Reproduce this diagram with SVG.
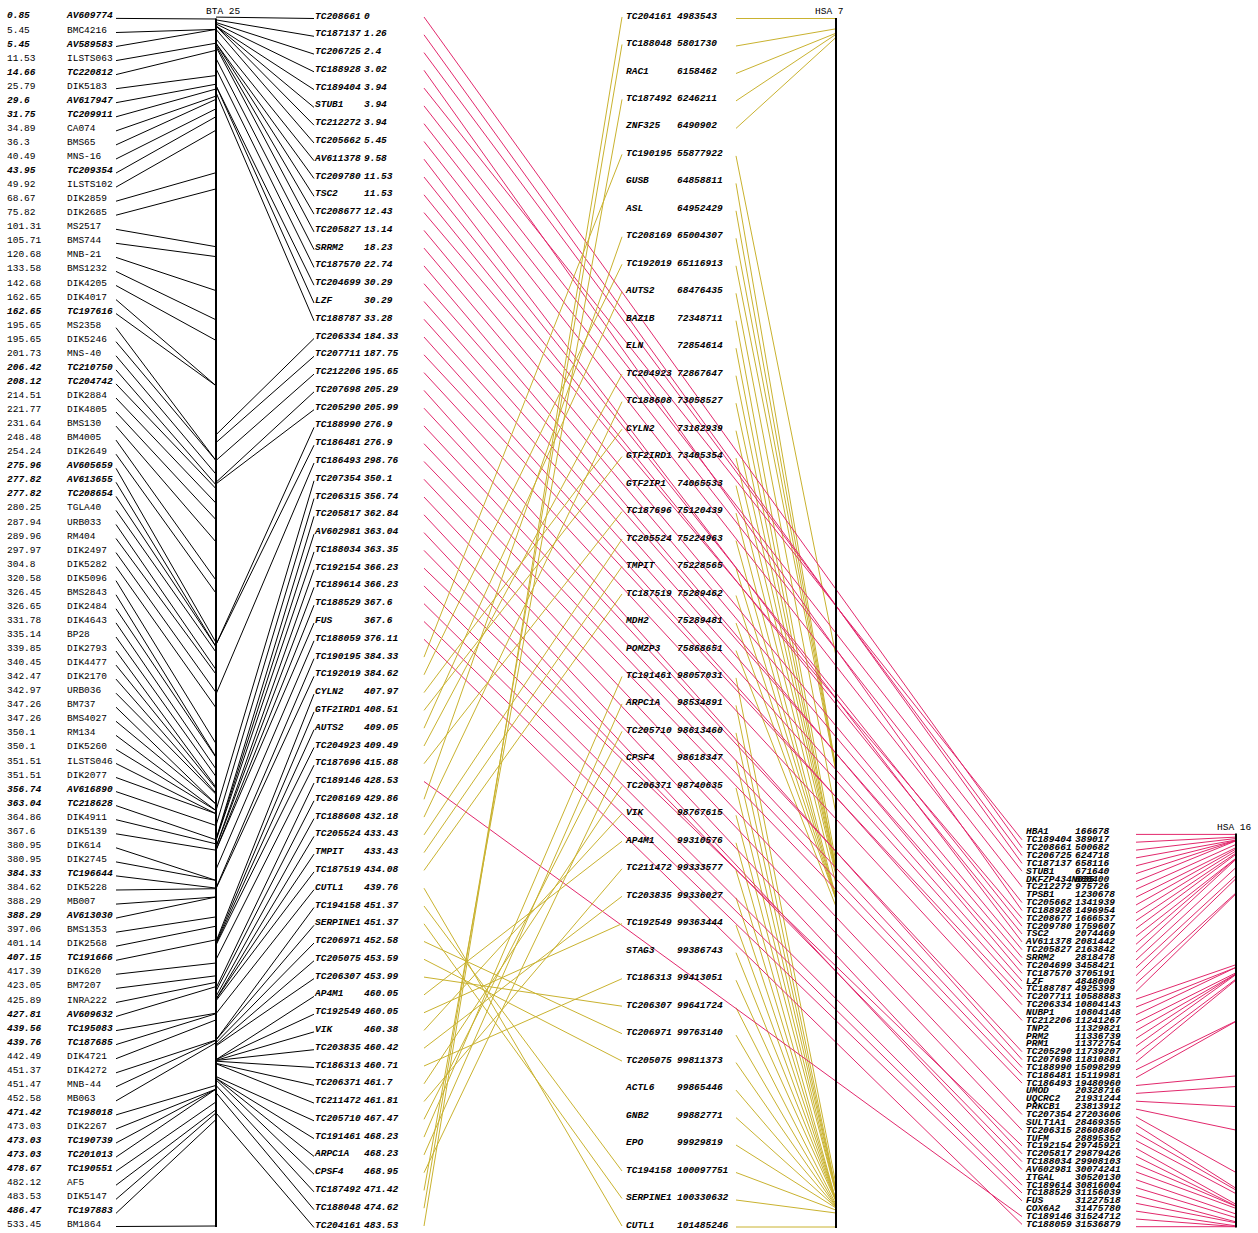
<svg xmlns="http://www.w3.org/2000/svg" width="1258" height="1233" viewBox="0 0 1258 1233">
<style>
text{font-family:"Liberation Mono","Courier New",monospace;font-size:9.5px;fill:#000}
.bi{font-weight:bold;font-style:italic}
.k line{stroke:#000;stroke-width:1}
.o line{stroke:#c9b22f;stroke-width:1}
.m line{stroke:#e2286c;stroke-width:1}
.ax{stroke:#000;stroke-width:2}
</style>
<rect width="1258" height="1233" fill="#fff"/>
<g id="connectors">
<g class="k" id="bta-left-links">
<line x1="116" y1="18.4" x2="216" y2="19.0"/><line x1="116" y1="32.5" x2="216" y2="29.4"/><line x1="116" y1="46.5" x2="216" y2="29.4"/><line x1="116" y1="60.6" x2="216" y2="43.2"/><line x1="116" y1="74.6" x2="216" y2="50.3"/><line x1="116" y1="88.7" x2="216" y2="75.5"/><line x1="116" y1="102.7" x2="216" y2="84.2"/><line x1="116" y1="116.8" x2="216" y2="89.0"/><line x1="116" y1="130.9" x2="216" y2="96.1"/><line x1="116" y1="144.9" x2="216" y2="99.3"/><line x1="116" y1="159.0" x2="216" y2="108.8"/><line x1="116" y1="173.0" x2="216" y2="116.7"/><line x1="116" y1="187.1" x2="216" y2="130.2"/><line x1="116" y1="201.2" x2="216" y2="172.7"/><line x1="116" y1="215.2" x2="216" y2="188.9"/><line x1="116" y1="229.3" x2="216" y2="246.7"/><line x1="116" y1="243.3" x2="216" y2="256.6"/><line x1="116" y1="257.4" x2="216" y2="290.6"/><line x1="116" y1="271.4" x2="216" y2="319.8"/><line x1="116" y1="285.5" x2="216" y2="340.4"/><line x1="116" y1="299.6" x2="216" y2="385.7"/><line x1="116" y1="313.6" x2="216" y2="385.7"/><line x1="116" y1="327.7" x2="216" y2="460.5"/><line x1="116" y1="341.7" x2="216" y2="460.5"/><line x1="116" y1="355.8" x2="216" y2="474.2"/><line x1="116" y1="369.9" x2="216" y2="484.9"/><line x1="116" y1="383.9" x2="216" y2="488.7"/><line x1="116" y1="398.0" x2="216" y2="503.2"/><line x1="116" y1="412.0" x2="216" y2="519.7"/><line x1="116" y1="426.1" x2="216" y2="542.0"/><line x1="116" y1="440.1" x2="216" y2="580.2"/><line x1="116" y1="454.2" x2="216" y2="593.2"/><line x1="116" y1="468.3" x2="216" y2="642.5"/><line x1="116" y1="482.3" x2="216" y2="646.7"/><line x1="116" y1="496.4" x2="216" y2="646.7"/><line x1="116" y1="510.4" x2="216" y2="652.2"/><line x1="116" y1="524.5" x2="216" y2="669.6"/><line x1="116" y1="538.5" x2="216" y2="674.2"/><line x1="116" y1="552.6" x2="216" y2="692.4"/><line x1="116" y1="566.7" x2="216" y2="707.8"/><line x1="116" y1="580.7" x2="216" y2="743.6"/><line x1="116" y1="594.8" x2="216" y2="756.9"/><line x1="116" y1="608.8" x2="216" y2="757.4"/><line x1="116" y1="622.9" x2="216" y2="769.0"/><line x1="116" y1="637.0" x2="216" y2="776.6"/><line x1="116" y1="651.0" x2="216" y2="787.3"/><line x1="116" y1="665.1" x2="216" y2="788.6"/><line x1="116" y1="679.1" x2="216" y2="793.2"/><line x1="116" y1="693.2" x2="216" y2="794.3"/><line x1="116" y1="707.2" x2="216" y2="804.1"/><line x1="116" y1="721.3" x2="216" y2="804.1"/><line x1="116" y1="735.4" x2="216" y2="810.5"/><line x1="116" y1="749.4" x2="216" y2="810.5"/><line x1="116" y1="763.5" x2="216" y2="813.7"/><line x1="116" y1="777.5" x2="216" y2="813.7"/><line x1="116" y1="791.6" x2="216" y2="825.5"/><line x1="116" y1="805.6" x2="216" y2="839.8"/><line x1="116" y1="819.7" x2="216" y2="843.9"/><line x1="116" y1="833.8" x2="216" y2="850.2"/><line x1="116" y1="847.8" x2="216" y2="880.4"/><line x1="116" y1="861.9" x2="216" y2="880.4"/><line x1="116" y1="875.9" x2="216" y2="888.1"/><line x1="116" y1="890.0" x2="216" y2="888.7"/><line x1="116" y1="904.1" x2="216" y2="897.0"/><line x1="116" y1="918.1" x2="216" y2="897.0"/><line x1="116" y1="932.2" x2="216" y2="916.9"/><line x1="116" y1="946.2" x2="216" y2="926.2"/><line x1="116" y1="960.3" x2="216" y2="939.8"/><line x1="116" y1="974.3" x2="216" y2="963.0"/><line x1="116" y1="988.4" x2="216" y2="975.8"/><line x1="116" y1="1002.5" x2="216" y2="982.3"/><line x1="116" y1="1016.5" x2="216" y2="986.6"/><line x1="116" y1="1030.6" x2="216" y2="1013.2"/><line x1="116" y1="1044.6" x2="216" y2="1013.7"/><line x1="116" y1="1058.7" x2="216" y2="1019.9"/><line x1="116" y1="1072.8" x2="216" y2="1040.0"/><line x1="116" y1="1086.8" x2="216" y2="1040.2"/><line x1="116" y1="1100.9" x2="216" y2="1042.7"/><line x1="116" y1="1114.9" x2="216" y2="1085.4"/><line x1="116" y1="1129.0" x2="216" y2="1089.1"/><line x1="116" y1="1143.0" x2="216" y2="1089.1"/><line x1="116" y1="1157.1" x2="216" y2="1089.1"/><line x1="116" y1="1171.2" x2="216" y2="1101.9"/><line x1="116" y1="1185.2" x2="216" y2="1109.7"/><line x1="116" y1="1199.3" x2="216" y2="1112.9"/><line x1="116" y1="1213.3" x2="216" y2="1119.5"/><line x1="116" y1="1226.5" x2="216" y2="1226.0"/>
</g>
<g class="k" id="bta-right-links">
<line x1="216" y1="17.1" x2="314" y2="18.5"/><line x1="216" y1="19.9" x2="314" y2="36.3"/><line x1="216" y1="22.5" x2="314" y2="54.1"/><line x1="216" y1="23.9" x2="314" y2="71.8"/><line x1="216" y1="26.0" x2="314" y2="89.6"/><line x1="216" y1="26.0" x2="314" y2="107.4"/><line x1="216" y1="26.0" x2="314" y2="125.2"/><line x1="216" y1="29.4" x2="314" y2="143.0"/><line x1="216" y1="38.8" x2="314" y2="160.7"/><line x1="216" y1="43.2" x2="314" y2="178.5"/><line x1="216" y1="43.2" x2="314" y2="196.3"/><line x1="216" y1="45.2" x2="314" y2="214.1"/><line x1="216" y1="46.9" x2="314" y2="231.9"/><line x1="216" y1="58.4" x2="314" y2="249.6"/><line x1="216" y1="68.6" x2="314" y2="267.4"/><line x1="216" y1="85.7" x2="314" y2="285.2"/><line x1="216" y1="85.7" x2="314" y2="303.0"/><line x1="216" y1="92.5" x2="314" y2="320.8"/><line x1="216" y1="434.8" x2="314" y2="338.5"/><line x1="216" y1="442.6" x2="314" y2="356.3"/><line x1="216" y1="460.5" x2="314" y2="374.1"/><line x1="216" y1="482.3" x2="314" y2="391.9"/><line x1="216" y1="483.9" x2="314" y2="409.7"/><line x1="216" y1="644.6" x2="314" y2="427.4"/><line x1="216" y1="644.6" x2="314" y2="445.2"/><line x1="216" y1="694.1" x2="314" y2="463.0"/><line x1="216" y1="810.5" x2="314" y2="480.8"/><line x1="216" y1="825.5" x2="314" y2="498.5"/><line x1="216" y1="839.4" x2="314" y2="516.3"/><line x1="216" y1="839.8" x2="314" y2="534.1"/><line x1="216" y1="840.5" x2="314" y2="551.9"/><line x1="216" y1="847.0" x2="314" y2="569.7"/><line x1="216" y1="847.0" x2="314" y2="587.4"/><line x1="216" y1="850.2" x2="314" y2="605.2"/><line x1="216" y1="850.2" x2="314" y2="623.0"/><line x1="216" y1="869.4" x2="314" y2="640.8"/><line x1="216" y1="888.1" x2="314" y2="658.6"/><line x1="216" y1="888.7" x2="314" y2="676.3"/><line x1="216" y1="941.6" x2="314" y2="694.1"/><line x1="216" y1="942.9" x2="314" y2="711.9"/><line x1="216" y1="944.1" x2="314" y2="729.7"/><line x1="216" y1="945.1" x2="314" y2="747.5"/><line x1="216" y1="959.6" x2="314" y2="765.2"/><line x1="216" y1="988.2" x2="314" y2="783.0"/><line x1="216" y1="991.2" x2="314" y2="800.8"/><line x1="216" y1="996.5" x2="314" y2="818.6"/><line x1="216" y1="999.3" x2="314" y2="836.4"/><line x1="216" y1="999.3" x2="314" y2="854.1"/><line x1="216" y1="1000.8" x2="314" y2="871.9"/><line x1="216" y1="1013.7" x2="314" y2="889.7"/><line x1="216" y1="1040.0" x2="314" y2="907.5"/><line x1="216" y1="1040.0" x2="314" y2="925.3"/><line x1="216" y1="1042.7" x2="314" y2="943.0"/><line x1="216" y1="1045.0" x2="314" y2="960.8"/><line x1="216" y1="1045.9" x2="314" y2="978.6"/><line x1="216" y1="1059.7" x2="314" y2="996.4"/><line x1="216" y1="1059.7" x2="314" y2="1014.2"/><line x1="216" y1="1060.4" x2="314" y2="1031.9"/><line x1="216" y1="1060.5" x2="314" y2="1049.7"/><line x1="216" y1="1061.2" x2="314" y2="1067.5"/><line x1="216" y1="1063.4" x2="314" y2="1085.3"/><line x1="216" y1="1063.7" x2="314" y2="1103.1"/><line x1="216" y1="1076.5" x2="314" y2="1120.8"/><line x1="216" y1="1078.2" x2="314" y2="1138.6"/><line x1="216" y1="1078.2" x2="314" y2="1156.4"/><line x1="216" y1="1079.8" x2="314" y2="1174.2"/><line x1="216" y1="1085.4" x2="314" y2="1191.9"/><line x1="216" y1="1092.7" x2="314" y2="1209.7"/><line x1="216" y1="1112.9" x2="314" y2="1227.5"/>
</g>
<g class="o" id="hsa7-links">
<line x1="736" y1="18.5" x2="836" y2="18.5"/><line x1="736" y1="46.0" x2="836" y2="28.8"/><line x1="736" y1="73.5" x2="836" y2="33.2"/><line x1="736" y1="100.9" x2="836" y2="34.3"/><line x1="736" y1="128.4" x2="836" y2="37.4"/><line x1="736" y1="155.9" x2="836" y2="656.1"/><line x1="736" y1="183.4" x2="836" y2="768.6"/><line x1="736" y1="210.8" x2="836" y2="769.8"/><line x1="736" y1="238.3" x2="836" y2="770.5"/><line x1="736" y1="265.8" x2="836" y2="771.9"/><line x1="736" y1="293.3" x2="836" y2="814.0"/><line x1="736" y1="320.7" x2="836" y2="862.5"/><line x1="736" y1="348.2" x2="836" y2="868.8"/><line x1="736" y1="375.7" x2="836" y2="869.0"/><line x1="736" y1="403.2" x2="836" y2="871.4"/><line x1="736" y1="430.7" x2="836" y2="872.9"/><line x1="736" y1="458.1" x2="836" y2="875.7"/><line x1="736" y1="485.6" x2="836" y2="884.0"/><line x1="736" y1="513.1" x2="836" y2="897.2"/><line x1="736" y1="540.6" x2="836" y2="898.5"/><line x1="736" y1="568.0" x2="836" y2="898.6"/><line x1="736" y1="595.5" x2="836" y2="899.3"/><line x1="736" y1="623.0" x2="836" y2="899.3"/><line x1="736" y1="650.5" x2="836" y2="906.6"/><line x1="736" y1="677.9" x2="836" y2="1184.6"/><line x1="736" y1="705.4" x2="836" y2="1190.5"/><line x1="736" y1="732.9" x2="836" y2="1191.5"/><line x1="736" y1="760.4" x2="836" y2="1191.6"/><line x1="736" y1="787.9" x2="836" y2="1193.1"/><line x1="736" y1="815.3" x2="836" y2="1193.5"/><line x1="736" y1="842.8" x2="836" y2="1200.3"/><line x1="736" y1="870.3" x2="836" y2="1200.5"/><line x1="736" y1="897.8" x2="836" y2="1200.6"/><line x1="736" y1="925.2" x2="836" y2="1200.9"/><line x1="736" y1="952.7" x2="836" y2="1201.2"/><line x1="736" y1="980.2" x2="836" y2="1201.5"/><line x1="736" y1="1007.7" x2="836" y2="1204.4"/><line x1="736" y1="1035.1" x2="836" y2="1205.9"/><line x1="736" y1="1062.6" x2="836" y2="1206.5"/><line x1="736" y1="1090.1" x2="836" y2="1207.2"/><line x1="736" y1="1117.6" x2="836" y2="1207.4"/><line x1="736" y1="1145.0" x2="836" y2="1208.0"/><line x1="736" y1="1172.5" x2="836" y2="1210.1"/><line x1="736" y1="1200.0" x2="836" y2="1213.0"/><line x1="736" y1="1227.0" x2="836" y2="1227.0"/>
</g>
<g class="m" id="hsa16-links">
<line x1="1136" y1="834.4" x2="1236" y2="834.4"/><line x1="1136" y1="842.2" x2="1236" y2="837.1"/><line x1="1136" y1="850.1" x2="1236" y2="838.5"/><line x1="1136" y1="857.9" x2="1236" y2="840.0"/><line x1="1136" y1="865.8" x2="1236" y2="840.5"/><line x1="1136" y1="873.6" x2="1236" y2="840.6"/><line x1="1136" y1="881.5" x2="1236" y2="840.8"/><line x1="1136" y1="889.3" x2="1236" y2="844.4"/><line x1="1136" y1="897.2" x2="1236" y2="847.6"/><line x1="1136" y1="905.0" x2="1236" y2="849.0"/><line x1="1136" y1="912.9" x2="1236" y2="850.9"/><line x1="1136" y1="920.7" x2="1236" y2="853.1"/><line x1="1136" y1="928.6" x2="1236" y2="854.2"/><line x1="1136" y1="936.4" x2="1236" y2="858.2"/><line x1="1136" y1="944.3" x2="1236" y2="858.3"/><line x1="1136" y1="952.1" x2="1236" y2="859.3"/><line x1="1136" y1="960.0" x2="1236" y2="867.5"/><line x1="1136" y1="967.8" x2="1236" y2="875.5"/><line x1="1136" y1="975.7" x2="1236" y2="878.6"/><line x1="1136" y1="983.5" x2="1236" y2="892.9"/><line x1="1136" y1="991.4" x2="1236" y2="893.8"/><line x1="1136" y1="999.2" x2="1236" y2="964.7"/><line x1="1136" y1="1007.1" x2="1236" y2="967.4"/><line x1="1136" y1="1014.9" x2="1236" y2="967.4"/><line x1="1136" y1="1022.8" x2="1236" y2="972.8"/><line x1="1136" y1="1030.6" x2="1236" y2="973.9"/><line x1="1136" y1="1038.5" x2="1236" y2="974.0"/><line x1="1136" y1="1046.3" x2="1236" y2="974.5"/><line x1="1136" y1="1054.1" x2="1236" y2="979.1"/><line x1="1136" y1="1062.0" x2="1236" y2="980.0"/><line x1="1136" y1="1069.8" x2="1236" y2="1021.1"/><line x1="1136" y1="1077.7" x2="1236" y2="1021.4"/><line x1="1136" y1="1085.5" x2="1236" y2="1075.9"/><line x1="1136" y1="1093.4" x2="1236" y2="1086.5"/><line x1="1136" y1="1101.2" x2="1236" y2="1106.6"/><line x1="1136" y1="1109.1" x2="1236" y2="1130.1"/><line x1="1136" y1="1116.9" x2="1236" y2="1172.5"/><line x1="1136" y1="1124.8" x2="1236" y2="1188.3"/><line x1="1136" y1="1132.6" x2="1236" y2="1190.1"/><line x1="1136" y1="1140.5" x2="1236" y2="1193.7"/><line x1="1136" y1="1148.3" x2="1236" y2="1204.3"/><line x1="1136" y1="1156.2" x2="1236" y2="1206.0"/><line x1="1136" y1="1164.0" x2="1236" y2="1206.3"/><line x1="1136" y1="1171.9" x2="1236" y2="1208.4"/><line x1="1136" y1="1179.7" x2="1236" y2="1214.0"/><line x1="1136" y1="1187.6" x2="1236" y2="1217.7"/><line x1="1136" y1="1195.4" x2="1236" y2="1221.9"/><line x1="1136" y1="1203.3" x2="1236" y2="1222.8"/><line x1="1136" y1="1211.1" x2="1236" y2="1225.9"/><line x1="1136" y1="1219.0" x2="1236" y2="1226.6"/><line x1="1136" y1="1226.7" x2="1236" y2="1226.7"/>
</g>
<g class="m" id="bta-hsa16-links">
<line x1="424" y1="17.0" x2="1022" y2="847.7"/><line x1="424" y1="34.8" x2="1022" y2="863.4"/><line x1="424" y1="52.6" x2="1022" y2="855.5"/><line x1="424" y1="70.3" x2="1022" y2="910.5"/><line x1="424" y1="88.1" x2="1022" y2="839.8"/><line x1="424" y1="105.9" x2="1022" y2="871.2"/><line x1="424" y1="123.7" x2="1022" y2="886.9"/><line x1="424" y1="141.5" x2="1022" y2="902.6"/><line x1="424" y1="159.2" x2="1022" y2="941.9"/><line x1="424" y1="177.0" x2="1022" y2="926.2"/><line x1="424" y1="194.8" x2="1022" y2="934.0"/><line x1="424" y1="212.6" x2="1022" y2="918.3"/><line x1="424" y1="230.4" x2="1022" y2="949.7"/><line x1="424" y1="248.1" x2="1022" y2="957.6"/><line x1="424" y1="265.9" x2="1022" y2="973.3"/><line x1="424" y1="283.7" x2="1022" y2="965.4"/><line x1="424" y1="301.5" x2="1022" y2="981.1"/><line x1="424" y1="319.3" x2="1022" y2="989.0"/><line x1="424" y1="337.0" x2="1022" y2="1004.7"/><line x1="424" y1="354.8" x2="1022" y2="996.8"/><line x1="424" y1="372.6" x2="1022" y2="1020.4"/><line x1="424" y1="390.4" x2="1022" y2="1059.6"/><line x1="424" y1="408.2" x2="1022" y2="1051.7"/><line x1="424" y1="425.9" x2="1022" y2="1067.4"/><line x1="424" y1="443.7" x2="1022" y2="1075.3"/><line x1="424" y1="461.5" x2="1022" y2="1083.1"/><line x1="424" y1="479.3" x2="1022" y2="1114.5"/><line x1="424" y1="497.0" x2="1022" y2="1130.2"/><line x1="424" y1="514.8" x2="1022" y2="1153.8"/><line x1="424" y1="532.6" x2="1022" y2="1169.5"/><line x1="424" y1="550.4" x2="1022" y2="1161.6"/><line x1="424" y1="568.2" x2="1022" y2="1145.9"/><line x1="424" y1="585.9" x2="1022" y2="1185.2"/><line x1="424" y1="603.7" x2="1022" y2="1193.0"/><line x1="424" y1="621.5" x2="1022" y2="1200.9"/><line x1="424" y1="639.3" x2="1022" y2="1224.4"/><line x1="424" y1="781.5" x2="1022" y2="1216.6"/>
</g>
<g class="o" id="bta-hsa7-links">
<line x1="424" y1="657.1" x2="622" y2="154.4"/><line x1="424" y1="674.8" x2="622" y2="264.3"/><line x1="424" y1="692.6" x2="622" y2="429.2"/><line x1="424" y1="710.4" x2="622" y2="456.6"/><line x1="424" y1="728.2" x2="622" y2="291.8"/><line x1="424" y1="746.0" x2="622" y2="374.2"/><line x1="424" y1="763.7" x2="622" y2="511.6"/><line x1="424" y1="799.3" x2="622" y2="236.8"/><line x1="424" y1="817.1" x2="622" y2="401.7"/><line x1="424" y1="834.9" x2="622" y2="539.1"/><line x1="424" y1="852.6" x2="622" y2="566.5"/><line x1="424" y1="870.4" x2="622" y2="594.0"/><line x1="424" y1="888.2" x2="622" y2="1226.0"/><line x1="424" y1="906.0" x2="622" y2="1171.0"/><line x1="424" y1="923.8" x2="622" y2="1198.5"/><line x1="424" y1="941.5" x2="622" y2="1033.7"/><line x1="424" y1="959.3" x2="622" y2="1061.1"/><line x1="424" y1="977.1" x2="622" y2="1006.2"/><line x1="424" y1="994.9" x2="622" y2="841.3"/><line x1="424" y1="1012.7" x2="622" y2="923.7"/><line x1="424" y1="1030.4" x2="622" y2="813.8"/><line x1="424" y1="1048.2" x2="622" y2="896.3"/><line x1="424" y1="1066.0" x2="622" y2="978.7"/><line x1="424" y1="1083.8" x2="622" y2="786.4"/><line x1="424" y1="1101.5" x2="622" y2="868.8"/><line x1="424" y1="1119.3" x2="622" y2="731.4"/><line x1="424" y1="1137.1" x2="622" y2="676.5"/><line x1="424" y1="1154.9" x2="622" y2="703.9"/><line x1="424" y1="1172.7" x2="622" y2="758.9"/><line x1="424" y1="1190.4" x2="622" y2="99.4"/><line x1="424" y1="1208.2" x2="622" y2="44.5"/><line x1="424" y1="1226.0" x2="622" y2="17.0"/>
</g>
</g>
<g id="chr-BTA25"><line class="ax" x1="216" y1="18.5" x2="216" y2="1227"/><text x="206" y="13.5">BTA 25</text></g>
<g id="chr-HSA7"><line class="ax" x1="836" y1="18" x2="836" y2="1228"/><text x="815" y="14">HSA 7</text></g>
<g id="chr-HSA16"><line class="ax" x1="1236" y1="833.5" x2="1236" y2="1227.5"/><text x="1217" y="829.5">HSA 16</text></g>
<g id="bta-labels">
<g id="bta-AV609774"><text class="bi" y="18.4"><tspan x="7">0.85</tspan><tspan x="67">AV609774</tspan></text></g>
<g id="bta-BMC4216"><text y="32.5"><tspan x="7">5.45</tspan><tspan x="67">BMC4216</tspan></text></g>
<g id="bta-AV589583"><text class="bi" y="46.5"><tspan x="7">5.45</tspan><tspan x="67">AV589583</tspan></text></g>
<g id="bta-ILSTS063"><text y="60.6"><tspan x="7">11.53</tspan><tspan x="67">ILSTS063</tspan></text></g>
<g id="bta-TC220812"><text class="bi" y="74.6"><tspan x="7">14.66</tspan><tspan x="67">TC220812</tspan></text></g>
<g id="bta-DIK5183"><text y="88.7"><tspan x="7">25.79</tspan><tspan x="67">DIK5183</tspan></text></g>
<g id="bta-AV617947"><text class="bi" y="102.7"><tspan x="7">29.6</tspan><tspan x="67">AV617947</tspan></text></g>
<g id="bta-TC209911"><text class="bi" y="116.8"><tspan x="7">31.75</tspan><tspan x="67">TC209911</tspan></text></g>
<g id="bta-CA074"><text y="130.9"><tspan x="7">34.89</tspan><tspan x="67">CA074</tspan></text></g>
<g id="bta-BMS65"><text y="144.9"><tspan x="7">36.3</tspan><tspan x="67">BMS65</tspan></text></g>
<g id="bta-MNS-16"><text y="159.0"><tspan x="7">40.49</tspan><tspan x="67">MNS-16</tspan></text></g>
<g id="bta-TC209354"><text class="bi" y="173.0"><tspan x="7">43.95</tspan><tspan x="67">TC209354</tspan></text></g>
<g id="bta-ILSTS102"><text y="187.1"><tspan x="7">49.92</tspan><tspan x="67">ILSTS102</tspan></text></g>
<g id="bta-DIK2859"><text y="201.2"><tspan x="7">68.67</tspan><tspan x="67">DIK2859</tspan></text></g>
<g id="bta-DIK2685"><text y="215.2"><tspan x="7">75.82</tspan><tspan x="67">DIK2685</tspan></text></g>
<g id="bta-MS2517"><text y="229.3"><tspan x="7">101.31</tspan><tspan x="67">MS2517</tspan></text></g>
<g id="bta-BMS744"><text y="243.3"><tspan x="7">105.71</tspan><tspan x="67">BMS744</tspan></text></g>
<g id="bta-MNB-21"><text y="257.4"><tspan x="7">120.68</tspan><tspan x="67">MNB-21</tspan></text></g>
<g id="bta-BMS1232"><text y="271.4"><tspan x="7">133.58</tspan><tspan x="67">BMS1232</tspan></text></g>
<g id="bta-DIK4205"><text y="285.5"><tspan x="7">142.68</tspan><tspan x="67">DIK4205</tspan></text></g>
<g id="bta-DIK4017"><text y="299.6"><tspan x="7">162.65</tspan><tspan x="67">DIK4017</tspan></text></g>
<g id="bta-TC197616"><text class="bi" y="313.6"><tspan x="7">162.65</tspan><tspan x="67">TC197616</tspan></text></g>
<g id="bta-MS2358"><text y="327.7"><tspan x="7">195.65</tspan><tspan x="67">MS2358</tspan></text></g>
<g id="bta-DIK5246"><text y="341.7"><tspan x="7">195.65</tspan><tspan x="67">DIK5246</tspan></text></g>
<g id="bta-MNS-40"><text y="355.8"><tspan x="7">201.73</tspan><tspan x="67">MNS-40</tspan></text></g>
<g id="bta-TC210750"><text class="bi" y="369.9"><tspan x="7">206.42</tspan><tspan x="67">TC210750</tspan></text></g>
<g id="bta-TC204742"><text class="bi" y="383.9"><tspan x="7">208.12</tspan><tspan x="67">TC204742</tspan></text></g>
<g id="bta-DIK2884"><text y="398.0"><tspan x="7">214.51</tspan><tspan x="67">DIK2884</tspan></text></g>
<g id="bta-DIK4805"><text y="412.0"><tspan x="7">221.77</tspan><tspan x="67">DIK4805</tspan></text></g>
<g id="bta-BMS130"><text y="426.1"><tspan x="7">231.64</tspan><tspan x="67">BMS130</tspan></text></g>
<g id="bta-BM4005"><text y="440.1"><tspan x="7">248.48</tspan><tspan x="67">BM4005</tspan></text></g>
<g id="bta-DIK2649"><text y="454.2"><tspan x="7">254.24</tspan><tspan x="67">DIK2649</tspan></text></g>
<g id="bta-AV605659"><text class="bi" y="468.3"><tspan x="7">275.96</tspan><tspan x="67">AV605659</tspan></text></g>
<g id="bta-AV613655"><text class="bi" y="482.3"><tspan x="7">277.82</tspan><tspan x="67">AV613655</tspan></text></g>
<g id="bta-TC208654"><text class="bi" y="496.4"><tspan x="7">277.82</tspan><tspan x="67">TC208654</tspan></text></g>
<g id="bta-TGLA40"><text y="510.4"><tspan x="7">280.25</tspan><tspan x="67">TGLA40</tspan></text></g>
<g id="bta-URB033"><text y="524.5"><tspan x="7">287.94</tspan><tspan x="67">URB033</tspan></text></g>
<g id="bta-RM404"><text y="538.5"><tspan x="7">289.96</tspan><tspan x="67">RM404</tspan></text></g>
<g id="bta-DIK2497"><text y="552.6"><tspan x="7">297.97</tspan><tspan x="67">DIK2497</tspan></text></g>
<g id="bta-DIK5282"><text y="566.7"><tspan x="7">304.8</tspan><tspan x="67">DIK5282</tspan></text></g>
<g id="bta-DIK5096"><text y="580.7"><tspan x="7">320.58</tspan><tspan x="67">DIK5096</tspan></text></g>
<g id="bta-BMS2843"><text y="594.8"><tspan x="7">326.45</tspan><tspan x="67">BMS2843</tspan></text></g>
<g id="bta-DIK2484"><text y="608.8"><tspan x="7">326.65</tspan><tspan x="67">DIK2484</tspan></text></g>
<g id="bta-DIK4643"><text y="622.9"><tspan x="7">331.78</tspan><tspan x="67">DIK4643</tspan></text></g>
<g id="bta-BP28"><text y="637.0"><tspan x="7">335.14</tspan><tspan x="67">BP28</tspan></text></g>
<g id="bta-DIK2793"><text y="651.0"><tspan x="7">339.85</tspan><tspan x="67">DIK2793</tspan></text></g>
<g id="bta-DIK4477"><text y="665.1"><tspan x="7">340.45</tspan><tspan x="67">DIK4477</tspan></text></g>
<g id="bta-DIK2170"><text y="679.1"><tspan x="7">342.47</tspan><tspan x="67">DIK2170</tspan></text></g>
<g id="bta-URB036"><text y="693.2"><tspan x="7">342.97</tspan><tspan x="67">URB036</tspan></text></g>
<g id="bta-BM737"><text y="707.2"><tspan x="7">347.26</tspan><tspan x="67">BM737</tspan></text></g>
<g id="bta-BMS4027"><text y="721.3"><tspan x="7">347.26</tspan><tspan x="67">BMS4027</tspan></text></g>
<g id="bta-RM134"><text y="735.4"><tspan x="7">350.1</tspan><tspan x="67">RM134</tspan></text></g>
<g id="bta-DIK5260"><text y="749.4"><tspan x="7">350.1</tspan><tspan x="67">DIK5260</tspan></text></g>
<g id="bta-ILSTS046"><text y="763.5"><tspan x="7">351.51</tspan><tspan x="67">ILSTS046</tspan></text></g>
<g id="bta-DIK2077"><text y="777.5"><tspan x="7">351.51</tspan><tspan x="67">DIK2077</tspan></text></g>
<g id="bta-AV616890"><text class="bi" y="791.6"><tspan x="7">356.74</tspan><tspan x="67">AV616890</tspan></text></g>
<g id="bta-TC218628"><text class="bi" y="805.6"><tspan x="7">363.04</tspan><tspan x="67">TC218628</tspan></text></g>
<g id="bta-DIK4911"><text y="819.7"><tspan x="7">364.86</tspan><tspan x="67">DIK4911</tspan></text></g>
<g id="bta-DIK5139"><text y="833.8"><tspan x="7">367.6</tspan><tspan x="67">DIK5139</tspan></text></g>
<g id="bta-DIK614"><text y="847.8"><tspan x="7">380.95</tspan><tspan x="67">DIK614</tspan></text></g>
<g id="bta-DIK2745"><text y="861.9"><tspan x="7">380.95</tspan><tspan x="67">DIK2745</tspan></text></g>
<g id="bta-TC196644"><text class="bi" y="875.9"><tspan x="7">384.33</tspan><tspan x="67">TC196644</tspan></text></g>
<g id="bta-DIK5228"><text y="890.0"><tspan x="7">384.62</tspan><tspan x="67">DIK5228</tspan></text></g>
<g id="bta-MB007"><text y="904.1"><tspan x="7">388.29</tspan><tspan x="67">MB007</tspan></text></g>
<g id="bta-AV613030"><text class="bi" y="918.1"><tspan x="7">388.29</tspan><tspan x="67">AV613030</tspan></text></g>
<g id="bta-BMS1353"><text y="932.2"><tspan x="7">397.06</tspan><tspan x="67">BMS1353</tspan></text></g>
<g id="bta-DIK2568"><text y="946.2"><tspan x="7">401.14</tspan><tspan x="67">DIK2568</tspan></text></g>
<g id="bta-TC191666"><text class="bi" y="960.3"><tspan x="7">407.15</tspan><tspan x="67">TC191666</tspan></text></g>
<g id="bta-DIK620"><text y="974.3"><tspan x="7">417.39</tspan><tspan x="67">DIK620</tspan></text></g>
<g id="bta-BM7207"><text y="988.4"><tspan x="7">423.05</tspan><tspan x="67">BM7207</tspan></text></g>
<g id="bta-INRA222"><text y="1002.5"><tspan x="7">425.89</tspan><tspan x="67">INRA222</tspan></text></g>
<g id="bta-AV609632"><text class="bi" y="1016.5"><tspan x="7">427.81</tspan><tspan x="67">AV609632</tspan></text></g>
<g id="bta-TC195083"><text class="bi" y="1030.6"><tspan x="7">439.56</tspan><tspan x="67">TC195083</tspan></text></g>
<g id="bta-TC187685"><text class="bi" y="1044.6"><tspan x="7">439.76</tspan><tspan x="67">TC187685</tspan></text></g>
<g id="bta-DIK4721"><text y="1058.7"><tspan x="7">442.49</tspan><tspan x="67">DIK4721</tspan></text></g>
<g id="bta-DIK4272"><text y="1072.8"><tspan x="7">451.37</tspan><tspan x="67">DIK4272</tspan></text></g>
<g id="bta-MNB-44"><text y="1086.8"><tspan x="7">451.47</tspan><tspan x="67">MNB-44</tspan></text></g>
<g id="bta-MB063"><text y="1100.9"><tspan x="7">452.58</tspan><tspan x="67">MB063</tspan></text></g>
<g id="bta-TC198018"><text class="bi" y="1114.9"><tspan x="7">471.42</tspan><tspan x="67">TC198018</tspan></text></g>
<g id="bta-DIK2267"><text y="1129.0"><tspan x="7">473.03</tspan><tspan x="67">DIK2267</tspan></text></g>
<g id="bta-TC190739"><text class="bi" y="1143.0"><tspan x="7">473.03</tspan><tspan x="67">TC190739</tspan></text></g>
<g id="bta-TC201013"><text class="bi" y="1157.1"><tspan x="7">473.03</tspan><tspan x="67">TC201013</tspan></text></g>
<g id="bta-TC190551"><text class="bi" y="1171.2"><tspan x="7">478.67</tspan><tspan x="67">TC190551</tspan></text></g>
<g id="bta-AF5"><text y="1185.2"><tspan x="7">482.12</tspan><tspan x="67">AF5</tspan></text></g>
<g id="bta-DIK5147"><text y="1199.3"><tspan x="7">483.53</tspan><tspan x="67">DIK5147</tspan></text></g>
<g id="bta-TC197883"><text class="bi" y="1213.3"><tspan x="7">486.47</tspan><tspan x="67">TC197883</tspan></text></g>
<g id="bta-BM1864"><text y="1227.4"><tspan x="7">533.45</tspan><tspan x="67">BM1864</tspan></text></g>
</g>
<g id="est-labels">
<g id="est-TC208661"><text class="bi" y="18.5"><tspan x="315">TC208661</tspan><tspan x="364">0</tspan></text></g>
<g id="est-TC187137"><text class="bi" y="36.3"><tspan x="315">TC187137</tspan><tspan x="364">1.26</tspan></text></g>
<g id="est-TC206725"><text class="bi" y="54.1"><tspan x="315">TC206725</tspan><tspan x="364">2.4</tspan></text></g>
<g id="est-TC188928"><text class="bi" y="71.8"><tspan x="315">TC188928</tspan><tspan x="364">3.02</tspan></text></g>
<g id="est-TC189404"><text class="bi" y="89.6"><tspan x="315">TC189404</tspan><tspan x="364">3.94</tspan></text></g>
<g id="est-STUB1"><text class="bi" y="107.4"><tspan x="315">STUB1</tspan><tspan x="364">3.94</tspan></text></g>
<g id="est-TC212272"><text class="bi" y="125.2"><tspan x="315">TC212272</tspan><tspan x="364">3.94</tspan></text></g>
<g id="est-TC205662"><text class="bi" y="143.0"><tspan x="315">TC205662</tspan><tspan x="364">5.45</tspan></text></g>
<g id="est-AV611378"><text class="bi" y="160.7"><tspan x="315">AV611378</tspan><tspan x="364">9.58</tspan></text></g>
<g id="est-TC209780"><text class="bi" y="178.5"><tspan x="315">TC209780</tspan><tspan x="364">11.53</tspan></text></g>
<g id="est-TSC2"><text class="bi" y="196.3"><tspan x="315">TSC2</tspan><tspan x="364">11.53</tspan></text></g>
<g id="est-TC208677"><text class="bi" y="214.1"><tspan x="315">TC208677</tspan><tspan x="364">12.43</tspan></text></g>
<g id="est-TC205827"><text class="bi" y="231.9"><tspan x="315">TC205827</tspan><tspan x="364">13.14</tspan></text></g>
<g id="est-SRRM2"><text class="bi" y="249.6"><tspan x="315">SRRM2</tspan><tspan x="364">18.23</tspan></text></g>
<g id="est-TC187570"><text class="bi" y="267.4"><tspan x="315">TC187570</tspan><tspan x="364">22.74</tspan></text></g>
<g id="est-TC204699"><text class="bi" y="285.2"><tspan x="315">TC204699</tspan><tspan x="364">30.29</tspan></text></g>
<g id="est-LZF"><text class="bi" y="303.0"><tspan x="315">LZF</tspan><tspan x="364">30.29</tspan></text></g>
<g id="est-TC188787"><text class="bi" y="320.8"><tspan x="315">TC188787</tspan><tspan x="364">33.28</tspan></text></g>
<g id="est-TC206334"><text class="bi" y="338.5"><tspan x="315">TC206334</tspan><tspan x="364">184.33</tspan></text></g>
<g id="est-TC207711"><text class="bi" y="356.3"><tspan x="315">TC207711</tspan><tspan x="364">187.75</tspan></text></g>
<g id="est-TC212206"><text class="bi" y="374.1"><tspan x="315">TC212206</tspan><tspan x="364">195.65</tspan></text></g>
<g id="est-TC207698"><text class="bi" y="391.9"><tspan x="315">TC207698</tspan><tspan x="364">205.29</tspan></text></g>
<g id="est-TC205290"><text class="bi" y="409.7"><tspan x="315">TC205290</tspan><tspan x="364">205.99</tspan></text></g>
<g id="est-TC188990"><text class="bi" y="427.4"><tspan x="315">TC188990</tspan><tspan x="364">276.9</tspan></text></g>
<g id="est-TC186481"><text class="bi" y="445.2"><tspan x="315">TC186481</tspan><tspan x="364">276.9</tspan></text></g>
<g id="est-TC186493"><text class="bi" y="463.0"><tspan x="315">TC186493</tspan><tspan x="364">298.76</tspan></text></g>
<g id="est-TC207354"><text class="bi" y="480.8"><tspan x="315">TC207354</tspan><tspan x="364">350.1</tspan></text></g>
<g id="est-TC206315"><text class="bi" y="498.5"><tspan x="315">TC206315</tspan><tspan x="364">356.74</tspan></text></g>
<g id="est-TC205817"><text class="bi" y="516.3"><tspan x="315">TC205817</tspan><tspan x="364">362.84</tspan></text></g>
<g id="est-AV602981"><text class="bi" y="534.1"><tspan x="315">AV602981</tspan><tspan x="364">363.04</tspan></text></g>
<g id="est-TC188034"><text class="bi" y="551.9"><tspan x="315">TC188034</tspan><tspan x="364">363.35</tspan></text></g>
<g id="est-TC192154"><text class="bi" y="569.7"><tspan x="315">TC192154</tspan><tspan x="364">366.23</tspan></text></g>
<g id="est-TC189614"><text class="bi" y="587.4"><tspan x="315">TC189614</tspan><tspan x="364">366.23</tspan></text></g>
<g id="est-TC188529"><text class="bi" y="605.2"><tspan x="315">TC188529</tspan><tspan x="364">367.6</tspan></text></g>
<g id="est-FUS"><text class="bi" y="623.0"><tspan x="315">FUS</tspan><tspan x="364">367.6</tspan></text></g>
<g id="est-TC188059"><text class="bi" y="640.8"><tspan x="315">TC188059</tspan><tspan x="364">376.11</tspan></text></g>
<g id="est-TC190195"><text class="bi" y="658.6"><tspan x="315">TC190195</tspan><tspan x="364">384.33</tspan></text></g>
<g id="est-TC192019"><text class="bi" y="676.3"><tspan x="315">TC192019</tspan><tspan x="364">384.62</tspan></text></g>
<g id="est-CYLN2"><text class="bi" y="694.1"><tspan x="315">CYLN2</tspan><tspan x="364">407.97</tspan></text></g>
<g id="est-GTF2IRD1"><text class="bi" y="711.9"><tspan x="315">GTF2IRD1</tspan><tspan x="364">408.51</tspan></text></g>
<g id="est-AUTS2"><text class="bi" y="729.7"><tspan x="315">AUTS2</tspan><tspan x="364">409.05</tspan></text></g>
<g id="est-TC204923"><text class="bi" y="747.5"><tspan x="315">TC204923</tspan><tspan x="364">409.49</tspan></text></g>
<g id="est-TC187696"><text class="bi" y="765.2"><tspan x="315">TC187696</tspan><tspan x="364">415.88</tspan></text></g>
<g id="est-TC189146"><text class="bi" y="783.0"><tspan x="315">TC189146</tspan><tspan x="364">428.53</tspan></text></g>
<g id="est-TC208169"><text class="bi" y="800.8"><tspan x="315">TC208169</tspan><tspan x="364">429.86</tspan></text></g>
<g id="est-TC188608"><text class="bi" y="818.6"><tspan x="315">TC188608</tspan><tspan x="364">432.18</tspan></text></g>
<g id="est-TC205524"><text class="bi" y="836.4"><tspan x="315">TC205524</tspan><tspan x="364">433.43</tspan></text></g>
<g id="est-TMPIT"><text class="bi" y="854.1"><tspan x="315">TMPIT</tspan><tspan x="364">433.43</tspan></text></g>
<g id="est-TC187519"><text class="bi" y="871.9"><tspan x="315">TC187519</tspan><tspan x="364">434.08</tspan></text></g>
<g id="est-CUTL1"><text class="bi" y="889.7"><tspan x="315">CUTL1</tspan><tspan x="364">439.76</tspan></text></g>
<g id="est-TC194158"><text class="bi" y="907.5"><tspan x="315">TC194158</tspan><tspan x="364">451.37</tspan></text></g>
<g id="est-SERPINE1"><text class="bi" y="925.3"><tspan x="315">SERPINE1</tspan><tspan x="364">451.37</tspan></text></g>
<g id="est-TC206971"><text class="bi" y="943.0"><tspan x="315">TC206971</tspan><tspan x="364">452.58</tspan></text></g>
<g id="est-TC205075"><text class="bi" y="960.8"><tspan x="315">TC205075</tspan><tspan x="364">453.59</tspan></text></g>
<g id="est-TC206307"><text class="bi" y="978.6"><tspan x="315">TC206307</tspan><tspan x="364">453.99</tspan></text></g>
<g id="est-AP4M1"><text class="bi" y="996.4"><tspan x="315">AP4M1</tspan><tspan x="364">460.05</tspan></text></g>
<g id="est-TC192549"><text class="bi" y="1014.2"><tspan x="315">TC192549</tspan><tspan x="364">460.05</tspan></text></g>
<g id="est-VIK"><text class="bi" y="1031.9"><tspan x="315">VIK</tspan><tspan x="364">460.38</tspan></text></g>
<g id="est-TC203835"><text class="bi" y="1049.7"><tspan x="315">TC203835</tspan><tspan x="364">460.42</tspan></text></g>
<g id="est-TC186313"><text class="bi" y="1067.5"><tspan x="315">TC186313</tspan><tspan x="364">460.71</tspan></text></g>
<g id="est-TC206371"><text class="bi" y="1085.3"><tspan x="315">TC206371</tspan><tspan x="364">461.7</tspan></text></g>
<g id="est-TC211472"><text class="bi" y="1103.1"><tspan x="315">TC211472</tspan><tspan x="364">461.81</tspan></text></g>
<g id="est-TC205710"><text class="bi" y="1120.8"><tspan x="315">TC205710</tspan><tspan x="364">467.47</tspan></text></g>
<g id="est-TC191461"><text class="bi" y="1138.6"><tspan x="315">TC191461</tspan><tspan x="364">468.23</tspan></text></g>
<g id="est-ARPC1A"><text class="bi" y="1156.4"><tspan x="315">ARPC1A</tspan><tspan x="364">468.23</tspan></text></g>
<g id="est-CPSF4"><text class="bi" y="1174.2"><tspan x="315">CPSF4</tspan><tspan x="364">468.95</tspan></text></g>
<g id="est-TC187492"><text class="bi" y="1191.9"><tspan x="315">TC187492</tspan><tspan x="364">471.42</tspan></text></g>
<g id="est-TC188048"><text class="bi" y="1209.7"><tspan x="315">TC188048</tspan><tspan x="364">474.62</tspan></text></g>
<g id="est-TC204161"><text class="bi" y="1227.5"><tspan x="315">TC204161</tspan><tspan x="364">483.53</tspan></text></g>
</g>
<g id="hsa7-labels">
<g id="hsa7-TC204161"><text class="bi" y="18.5"><tspan x="626">TC204161</tspan><tspan x="677">4983543</tspan></text></g>
<g id="hsa7-TC188048"><text class="bi" y="46.0"><tspan x="626">TC188048</tspan><tspan x="677">5801730</tspan></text></g>
<g id="hsa7-RAC1"><text class="bi" y="73.5"><tspan x="626">RAC1</tspan><tspan x="677">6158462</tspan></text></g>
<g id="hsa7-TC187492"><text class="bi" y="100.9"><tspan x="626">TC187492</tspan><tspan x="677">6246211</tspan></text></g>
<g id="hsa7-ZNF325"><text class="bi" y="128.4"><tspan x="626">ZNF325</tspan><tspan x="677">6490902</tspan></text></g>
<g id="hsa7-TC190195"><text class="bi" y="155.9"><tspan x="626">TC190195</tspan><tspan x="677">55877922</tspan></text></g>
<g id="hsa7-GUSB"><text class="bi" y="183.4"><tspan x="626">GUSB</tspan><tspan x="677">64858811</tspan></text></g>
<g id="hsa7-ASL"><text class="bi" y="210.8"><tspan x="626">ASL</tspan><tspan x="677">64952429</tspan></text></g>
<g id="hsa7-TC208169"><text class="bi" y="238.3"><tspan x="626">TC208169</tspan><tspan x="677">65004307</tspan></text></g>
<g id="hsa7-TC192019"><text class="bi" y="265.8"><tspan x="626">TC192019</tspan><tspan x="677">65116913</tspan></text></g>
<g id="hsa7-AUTS2"><text class="bi" y="293.3"><tspan x="626">AUTS2</tspan><tspan x="677">68476435</tspan></text></g>
<g id="hsa7-BAZ1B"><text class="bi" y="320.7"><tspan x="626">BAZ1B</tspan><tspan x="677">72348711</tspan></text></g>
<g id="hsa7-ELN"><text class="bi" y="348.2"><tspan x="626">ELN</tspan><tspan x="677">72854614</tspan></text></g>
<g id="hsa7-TC204923"><text class="bi" y="375.7"><tspan x="626">TC204923</tspan><tspan x="677">72867647</tspan></text></g>
<g id="hsa7-TC188608"><text class="bi" y="403.2"><tspan x="626">TC188608</tspan><tspan x="677">73058527</tspan></text></g>
<g id="hsa7-CYLN2"><text class="bi" y="430.7"><tspan x="626">CYLN2</tspan><tspan x="677">73182939</tspan></text></g>
<g id="hsa7-GTF2IRD1"><text class="bi" y="458.1"><tspan x="626">GTF2IRD1</tspan><tspan x="677">73405354</tspan></text></g>
<g id="hsa7-GTF2IP1"><text class="bi" y="485.6"><tspan x="626">GTF2IP1</tspan><tspan x="677">74065533</tspan></text></g>
<g id="hsa7-TC187696"><text class="bi" y="513.1"><tspan x="626">TC187696</tspan><tspan x="677">75120439</tspan></text></g>
<g id="hsa7-TC205524"><text class="bi" y="540.6"><tspan x="626">TC205524</tspan><tspan x="677">75224963</tspan></text></g>
<g id="hsa7-TMPIT"><text class="bi" y="568.0"><tspan x="626">TMPIT</tspan><tspan x="677">75228565</tspan></text></g>
<g id="hsa7-TC187519"><text class="bi" y="595.5"><tspan x="626">TC187519</tspan><tspan x="677">75289462</tspan></text></g>
<g id="hsa7-MDH2"><text class="bi" y="623.0"><tspan x="626">MDH2</tspan><tspan x="677">75289481</tspan></text></g>
<g id="hsa7-POMZP3"><text class="bi" y="650.5"><tspan x="626">POMZP3</tspan><tspan x="677">75868651</tspan></text></g>
<g id="hsa7-TC191461"><text class="bi" y="677.9"><tspan x="626">TC191461</tspan><tspan x="677">98057031</tspan></text></g>
<g id="hsa7-ARPC1A"><text class="bi" y="705.4"><tspan x="626">ARPC1A</tspan><tspan x="677">98534891</tspan></text></g>
<g id="hsa7-TC205710"><text class="bi" y="732.9"><tspan x="626">TC205710</tspan><tspan x="677">98613460</tspan></text></g>
<g id="hsa7-CPSF4"><text class="bi" y="760.4"><tspan x="626">CPSF4</tspan><tspan x="677">98618347</tspan></text></g>
<g id="hsa7-TC206371"><text class="bi" y="787.9"><tspan x="626">TC206371</tspan><tspan x="677">98740635</tspan></text></g>
<g id="hsa7-VIK"><text class="bi" y="815.3"><tspan x="626">VIK</tspan><tspan x="677">98767615</tspan></text></g>
<g id="hsa7-AP4M1"><text class="bi" y="842.8"><tspan x="626">AP4M1</tspan><tspan x="677">99310576</tspan></text></g>
<g id="hsa7-TC211472"><text class="bi" y="870.3"><tspan x="626">TC211472</tspan><tspan x="677">99333577</tspan></text></g>
<g id="hsa7-TC203835"><text class="bi" y="897.8"><tspan x="626">TC203835</tspan><tspan x="677">99336027</tspan></text></g>
<g id="hsa7-TC192549"><text class="bi" y="925.2"><tspan x="626">TC192549</tspan><tspan x="677">99363444</tspan></text></g>
<g id="hsa7-STAG3"><text class="bi" y="952.7"><tspan x="626">STAG3</tspan><tspan x="677">99386743</tspan></text></g>
<g id="hsa7-TC186313"><text class="bi" y="980.2"><tspan x="626">TC186313</tspan><tspan x="677">99413051</tspan></text></g>
<g id="hsa7-TC206307"><text class="bi" y="1007.7"><tspan x="626">TC206307</tspan><tspan x="677">99641724</tspan></text></g>
<g id="hsa7-TC206971"><text class="bi" y="1035.1"><tspan x="626">TC206971</tspan><tspan x="677">99763140</tspan></text></g>
<g id="hsa7-TC205075"><text class="bi" y="1062.6"><tspan x="626">TC205075</tspan><tspan x="677">99811373</tspan></text></g>
<g id="hsa7-ACTL6"><text class="bi" y="1090.1"><tspan x="626">ACTL6</tspan><tspan x="677">99865446</tspan></text></g>
<g id="hsa7-GNB2"><text class="bi" y="1117.6"><tspan x="626">GNB2</tspan><tspan x="677">99882771</tspan></text></g>
<g id="hsa7-EPO"><text class="bi" y="1145.0"><tspan x="626">EPO</tspan><tspan x="677">99929819</tspan></text></g>
<g id="hsa7-TC194158"><text class="bi" y="1172.5"><tspan x="626">TC194158</tspan><tspan x="677">100097751</tspan></text></g>
<g id="hsa7-SERPINE1"><text class="bi" y="1200.0"><tspan x="626">SERPINE1</tspan><tspan x="677">100330632</tspan></text></g>
<g id="hsa7-CUTL1"><text class="bi" y="1227.5"><tspan x="626">CUTL1</tspan><tspan x="677">101485246</tspan></text></g>
</g>
<g id="hsa16-labels">
<g id="hsa16-HBA1"><text class="bi" y="834.4"><tspan x="1026">HBA1</tspan><tspan x="1075">166678</tspan></text></g>
<g id="hsa16-TC189404"><text class="bi" y="842.2"><tspan x="1026">TC189404</tspan><tspan x="1075">389017</tspan></text></g>
<g id="hsa16-TC208661"><text class="bi" y="850.1"><tspan x="1026">TC208661</tspan><tspan x="1075">500682</tspan></text></g>
<g id="hsa16-TC206725"><text class="bi" y="857.9"><tspan x="1026">TC206725</tspan><tspan x="1075">624718</tspan></text></g>
<g id="hsa16-TC187137"><text class="bi" y="865.8"><tspan x="1026">TC187137</tspan><tspan x="1075">658116</tspan></text></g>
<g id="hsa16-STUB1"><text class="bi" y="873.6"><tspan x="1026">STUB1</tspan><tspan x="1075">671640</tspan></text></g>
<g id="hsa16-DKFZP434N035"><text class="bi" y="881.5"><tspan x="1026">DKFZP434N035</tspan><tspan x="1075">686400</tspan></text></g>
<g id="hsa16-TC212272"><text class="bi" y="889.3"><tspan x="1026">TC212272</tspan><tspan x="1075">975726</tspan></text></g>
<g id="hsa16-TPSB1"><text class="bi" y="897.2"><tspan x="1026">TPSB1</tspan><tspan x="1075">1230678</tspan></text></g>
<g id="hsa16-TC205662"><text class="bi" y="905.0"><tspan x="1026">TC205662</tspan><tspan x="1075">1341939</tspan></text></g>
<g id="hsa16-TC188928"><text class="bi" y="912.9"><tspan x="1026">TC188928</tspan><tspan x="1075">1496954</tspan></text></g>
<g id="hsa16-TC208677"><text class="bi" y="920.7"><tspan x="1026">TC208677</tspan><tspan x="1075">1666537</tspan></text></g>
<g id="hsa16-TC209780"><text class="bi" y="928.6"><tspan x="1026">TC209780</tspan><tspan x="1075">1759607</tspan></text></g>
<g id="hsa16-TSC2"><text class="bi" y="936.4"><tspan x="1026">TSC2</tspan><tspan x="1075">2074469</tspan></text></g>
<g id="hsa16-AV611378"><text class="bi" y="944.3"><tspan x="1026">AV611378</tspan><tspan x="1075">2081442</tspan></text></g>
<g id="hsa16-TC205827"><text class="bi" y="952.1"><tspan x="1026">TC205827</tspan><tspan x="1075">2163842</tspan></text></g>
<g id="hsa16-SRRM2"><text class="bi" y="960.0"><tspan x="1026">SRRM2</tspan><tspan x="1075">2818478</tspan></text></g>
<g id="hsa16-TC204699"><text class="bi" y="967.8"><tspan x="1026">TC204699</tspan><tspan x="1075">3458421</tspan></text></g>
<g id="hsa16-TC187570"><text class="bi" y="975.7"><tspan x="1026">TC187570</tspan><tspan x="1075">3705191</tspan></text></g>
<g id="hsa16-LZF"><text class="bi" y="983.5"><tspan x="1026">LZF</tspan><tspan x="1075">4848008</tspan></text></g>
<g id="hsa16-TC188787"><text class="bi" y="991.4"><tspan x="1026">TC188787</tspan><tspan x="1075">4925399</tspan></text></g>
<g id="hsa16-TC207711"><text class="bi" y="999.2"><tspan x="1026">TC207711</tspan><tspan x="1075">10588883</tspan></text></g>
<g id="hsa16-TC206334"><text class="bi" y="1007.1"><tspan x="1026">TC206334</tspan><tspan x="1075">10804143</tspan></text></g>
<g id="hsa16-NUBP1"><text class="bi" y="1014.9"><tspan x="1026">NUBP1</tspan><tspan x="1075">10804148</tspan></text></g>
<g id="hsa16-TC212206"><text class="bi" y="1022.8"><tspan x="1026">TC212206</tspan><tspan x="1075">11241267</tspan></text></g>
<g id="hsa16-TNP2"><text class="bi" y="1030.6"><tspan x="1026">TNP2</tspan><tspan x="1075">11329821</tspan></text></g>
<g id="hsa16-PRM2"><text class="bi" y="1038.5"><tspan x="1026">PRM2</tspan><tspan x="1075">11336739</tspan></text></g>
<g id="hsa16-PRM1"><text class="bi" y="1046.3"><tspan x="1026">PRM1</tspan><tspan x="1075">11372754</tspan></text></g>
<g id="hsa16-TC205290"><text class="bi" y="1054.1"><tspan x="1026">TC205290</tspan><tspan x="1075">11739207</tspan></text></g>
<g id="hsa16-TC207698"><text class="bi" y="1062.0"><tspan x="1026">TC207698</tspan><tspan x="1075">11810881</tspan></text></g>
<g id="hsa16-TC188990"><text class="bi" y="1069.8"><tspan x="1026">TC188990</tspan><tspan x="1075">15098299</tspan></text></g>
<g id="hsa16-TC186481"><text class="bi" y="1077.7"><tspan x="1026">TC186481</tspan><tspan x="1075">15119981</tspan></text></g>
<g id="hsa16-TC186493"><text class="bi" y="1085.5"><tspan x="1026">TC186493</tspan><tspan x="1075">19480960</tspan></text></g>
<g id="hsa16-UMOD"><text class="bi" y="1093.4"><tspan x="1026">UMOD</tspan><tspan x="1075">20328716</tspan></text></g>
<g id="hsa16-UQCRC2"><text class="bi" y="1101.2"><tspan x="1026">UQCRC2</tspan><tspan x="1075">21931244</tspan></text></g>
<g id="hsa16-PRKCB1"><text class="bi" y="1109.1"><tspan x="1026">PRKCB1</tspan><tspan x="1075">23813912</tspan></text></g>
<g id="hsa16-TC207354"><text class="bi" y="1116.9"><tspan x="1026">TC207354</tspan><tspan x="1075">27203606</tspan></text></g>
<g id="hsa16-SULT1A1"><text class="bi" y="1124.8"><tspan x="1026">SULT1A1</tspan><tspan x="1075">28469355</tspan></text></g>
<g id="hsa16-TC206315"><text class="bi" y="1132.6"><tspan x="1026">TC206315</tspan><tspan x="1075">28608860</tspan></text></g>
<g id="hsa16-TUFM"><text class="bi" y="1140.5"><tspan x="1026">TUFM</tspan><tspan x="1075">28895352</tspan></text></g>
<g id="hsa16-TC192154"><text class="bi" y="1148.3"><tspan x="1026">TC192154</tspan><tspan x="1075">29745921</tspan></text></g>
<g id="hsa16-TC205817"><text class="bi" y="1156.2"><tspan x="1026">TC205817</tspan><tspan x="1075">29879426</tspan></text></g>
<g id="hsa16-TC188034"><text class="bi" y="1164.0"><tspan x="1026">TC188034</tspan><tspan x="1075">29908103</tspan></text></g>
<g id="hsa16-AV602981"><text class="bi" y="1171.9"><tspan x="1026">AV602981</tspan><tspan x="1075">30074241</tspan></text></g>
<g id="hsa16-ITGAL"><text class="bi" y="1179.7"><tspan x="1026">ITGAL</tspan><tspan x="1075">30520130</tspan></text></g>
<g id="hsa16-TC189614"><text class="bi" y="1187.6"><tspan x="1026">TC189614</tspan><tspan x="1075">30816004</tspan></text></g>
<g id="hsa16-TC188529"><text class="bi" y="1195.4"><tspan x="1026">TC188529</tspan><tspan x="1075">31156039</tspan></text></g>
<g id="hsa16-FUS"><text class="bi" y="1203.3"><tspan x="1026">FUS</tspan><tspan x="1075">31227518</tspan></text></g>
<g id="hsa16-COX6A2"><text class="bi" y="1211.1"><tspan x="1026">COX6A2</tspan><tspan x="1075">31475780</tspan></text></g>
<g id="hsa16-TC189146"><text class="bi" y="1219.0"><tspan x="1026">TC189146</tspan><tspan x="1075">31524712</tspan></text></g>
<g id="hsa16-TC188059"><text class="bi" y="1226.8"><tspan x="1026">TC188059</tspan><tspan x="1075">31536879</tspan></text></g>
</g>
</svg>
